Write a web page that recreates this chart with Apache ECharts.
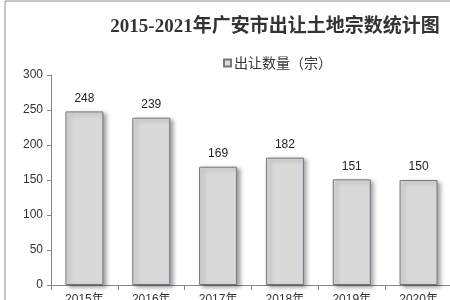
<!DOCTYPE html>
<html><head><meta charset="utf-8">
<script src="https://cdn.jsdelivr.net/npm/echarts@6/dist/echarts.min.js"></script>
<style>html,body{margin:0;padding:0;background:#fff}#c{width:450px;height:300px}</style>
</head><body><div id="c"></div>
<script>
const titleText = '2015-2021年广安市出让土地宗数统计图';
const seriesName = '出让数量（宗）';
const categories = ['2015年', '2016年', '2017年', '2018年', '2019年', '2020年'];
const values = [248, 239, 169, 182, 151, 150];
const yTicks = [0, 50, 100, 150, 200, 250, 300];

const chart = echarts.init(document.getElementById('c'), null, {renderer: 'canvas'});
chart.setOption({
  animation: false,
  backgroundColor: '#fff',
  graphic: [{
    type: 'rect', shape: {x: 5, y: 1, width: 460, height: 320},
    style: {fill: 'none', stroke: '#8c8c8c', lineWidth: 1}, silent: true
  }],
  title: {
    text: titleText, left: 270, top: 13, textAlign: 'center',
    textStyle: {fontFamily: 'Liberation Serif, Noto Sans CJK SC', fontWeight: 'bold', fontSize: 19, color: '#333'}
  },
  legend: {
    data: [seriesName], left: 218, top: 51, itemWidth: 7, itemHeight: 7, itemGap: 3,
    icon: 'rect',
    textStyle: {fontFamily: 'Noto Sans CJK SC', fontSize: 14, color: '#333', padding: [0,0,0,-2]}
  },
  grid: {left: 51, right: -2, top: 75, bottom: 15, containLabel: false, outerBoundsMode: 'none'},
  xAxis: {
    type: 'category', data: categories,
    axisLine: {lineStyle: {color: '#868686'}},
    axisTick: {show: true, length: 5, lineStyle: {color: '#868686'}},
    axisLabel: {color: '#333', fontSize: 12, fontFamily: 'Liberation Sans, Noto Sans CJK SC', margin: 9}
  },
  yAxis: {
    type: 'value', min: 0, max: 300, interval: 50,
    axisLine: {show: true, lineStyle: {color: '#868686'}},
    axisTick: {show: true, length: 4, lineStyle: {color: '#868686'}},
    splitLine: {show: false},
    axisLabel: {color: '#333', fontSize: 12, fontFamily: 'Liberation Sans', margin: 8}
  },
  series: [{
    name: seriesName, type: 'bar', data: values, barWidth: 38,
    itemStyle: {color: '#d9d9d9', borderColor: '#737687', borderWidth: 1,
      shadowColor: 'rgba(0,0,0,0.35)', shadowBlur: 4, shadowOffsetX: 3, shadowOffsetY: 2},
    label: {show: true, position: 'top', distance: 7, color: '#222', fontSize: 12, fontFamily: 'Liberation Sans'}
  }]
});
</script></body></html>
